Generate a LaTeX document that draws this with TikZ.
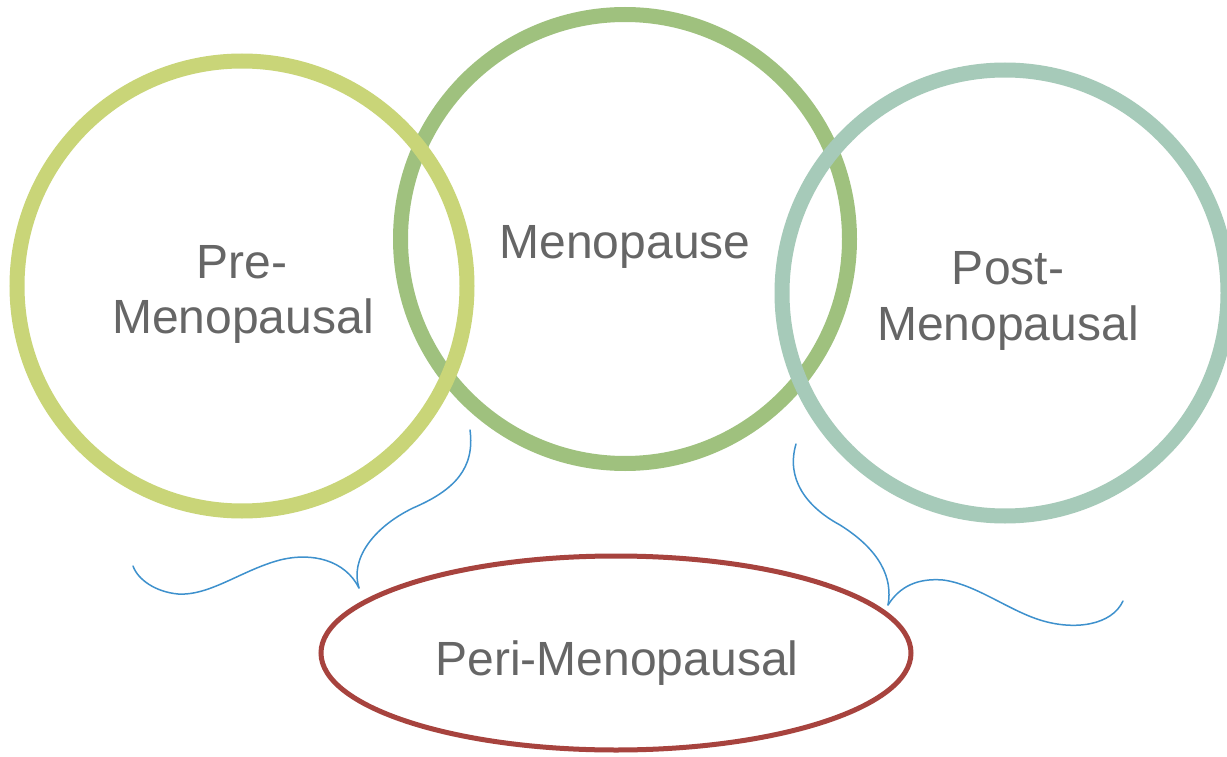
\documentclass[tikz,border=0pt]{standalone}
\usepackage{fontspec}
\setmainfont{Liberation Sans}
\usetikzlibrary{shapes.geometric}
\definecolor{cPre}{RGB}{201,213,120}
\definecolor{cMeno}{RGB}{159,193,126}
\definecolor{cPost}{RGB}{166,202,185}
\definecolor{cPeri}{RGB}{167,67,62}
\definecolor{cBrace}{RGB}{62,145,205}
\definecolor{cText}{RGB}{102,102,102}
\tikzset{
  ring/.style={circle, draw, line width=15pt, inner sep=0pt, minimum size=450pt},
  lbl/.style={text=cText, inner sep=0pt, anchor=base, font=\fontsize{48}{55}\selectfont},
  bracecurve/.style={draw=cBrace, line width=1.5pt, line cap=round}
}
\begin{document}
\begin{tikzpicture}[x=1pt,y=-1pt]
\clip (0,0) rectangle (1227,757);
\fill[white] (0,0) rectangle (1227,757);
% rings
\node[ring, draw=cMeno, minimum size=449pt] (meno) at (625,239) {};
\node[ring, draw=cPre] (pre) at (242,286) {};
\node[ring, draw=cPost, minimum size=446pt] (post) at (1005,293) {};
\node[ellipse, draw=cPeri, line width=5pt, inner sep=0pt, minimum width=590pt, minimum height=194pt] (peri) at (616,653) {};
% labels
\node[lbl] (pre1) at (242,278) {Pre-};
\node[lbl] (pre2) at (243,333) {Menopausal};
\node[lbl] (meno1) at (625,258) {Menopause};
\node[lbl] (post1) at (1008,284) {Post-};
\node[lbl] (post2) at (1008,340) {Menopausal};
\node[lbl] (peri1) at (617,675) {Peri-Menopausal};
% braces
\coordinate (lt) at (470,430);
\coordinate (lc) at (359,588);
\coordinate (le) at (133,566);
\coordinate (rt) at (796,444);
\coordinate (rc) at (888,605);
\coordinate (re) at (1123,601);
\path[bracecurve] (lt) .. controls (475,468) and (455,490) .. (413,508)
  .. controls (372,528) and (350,560) .. (lc);
\path[bracecurve] (lc) .. controls (345,560) and (312,552) .. (280,560)
  .. controls (242,570) and (210,596) .. (178,594)
  .. controls (156,592) and (138,580) .. (le);
\path[bracecurve] (rt) .. controls (786,478) and (805,506) .. (840,525)
  .. controls (880,550) and (893,578) .. (rc);
\path[bracecurve] (rc) .. controls (900,586) and (918,578) .. (943,580)
  .. controls (975,584) and (1008,610) .. (1040,620)
  .. controls (1075,631) and (1112,625) .. (re);
\end{tikzpicture}
\end{document}
